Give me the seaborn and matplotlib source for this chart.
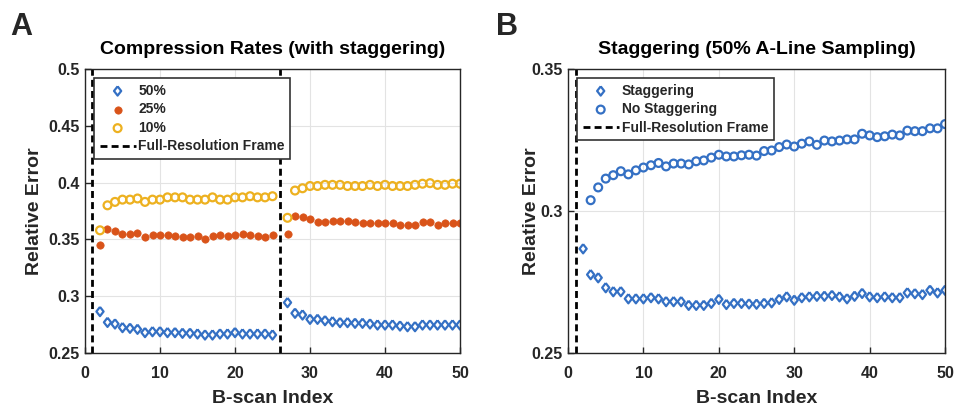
import numpy as np
import pandas as pd
import matplotlib
matplotlib.use('Agg')
import matplotlib.pyplot as plt
import seaborn as sns
from matplotlib.ticker import FuncFormatter

# Panel A: compression rates (with staggering); full-resolution frames at 1 and 26
idx_a = list(range(2, 26)) + list(range(27, 51))
rate_50 = [0.2865, 0.277, 0.2756, 0.2724, 0.2718, 0.2709, 0.268, 0.2688, 0.2688, 0.268,
           0.268, 0.2674, 0.2674, 0.2668, 0.2659, 0.2659, 0.2668, 0.2668, 0.268, 0.2668,
           0.2668, 0.2668, 0.2668, 0.2659,
           0.2944, 0.285, 0.2835, 0.2797, 0.2797, 0.2785, 0.2776, 0.2768, 0.2768, 0.2762,
           0.2762, 0.2756, 0.2747, 0.2747, 0.2747, 0.2738, 0.2732, 0.2732, 0.2747, 0.2747,
           0.2747, 0.2747, 0.2747, 0.2747]
rate_25 = [0.345, 0.359, 0.357, 0.355, 0.355, 0.356, 0.352, 0.354, 0.354, 0.354,
           0.353, 0.3525, 0.352, 0.353, 0.350, 0.353, 0.354, 0.353, 0.354, 0.355,
           0.354, 0.353, 0.352, 0.354,
           0.355, 0.371, 0.370, 0.368, 0.365, 0.365, 0.366, 0.366, 0.366, 0.365,
           0.364, 0.364, 0.364, 0.364, 0.364, 0.363, 0.363, 0.363, 0.365, 0.365,
           0.363, 0.364, 0.364, 0.364]
rate_10 = [0.358, 0.380, 0.383, 0.385, 0.385, 0.386, 0.383, 0.385, 0.385, 0.387,
           0.387, 0.387, 0.385, 0.385, 0.385, 0.387, 0.385, 0.385, 0.387, 0.387,
           0.388, 0.387, 0.387, 0.388,
           0.369, 0.393, 0.395, 0.397, 0.397, 0.398, 0.398, 0.398, 0.397, 0.397,
           0.397, 0.398, 0.397, 0.398, 0.397, 0.397, 0.397, 0.398, 0.399, 0.3995,
           0.398, 0.398, 0.399, 0.399]
full_res_a = [1, 26]

# Panel B: staggering vs no staggering at 50% A-line sampling
idx_stag = list(range(2, 51))
stag = [0.2867, 0.2776, 0.2765, 0.2730, 0.2716, 0.2716, 0.2691, 0.2691, 0.2691, 0.2695,
        0.2691, 0.2681, 0.2681, 0.2681, 0.2668, 0.2668, 0.2668, 0.2675, 0.2689, 0.2671,
        0.2675, 0.2675, 0.2673, 0.2672, 0.2675, 0.2677, 0.2689, 0.2698, 0.2686, 0.2695,
        0.2698, 0.2700, 0.2700, 0.2703, 0.2698, 0.2691, 0.2700, 0.2710, 0.2698, 0.2695,
        0.2698, 0.2695, 0.2695, 0.2712, 0.2709, 0.2706, 0.2721, 0.2712, 0.2721]
idx_nostag = list(range(3, 51))
nostag = [0.3038, 0.3083, 0.3114, 0.3126, 0.3140, 0.3129, 0.3143, 0.3153, 0.3161, 0.3169,
          0.3157, 0.3167, 0.3167, 0.3164, 0.3175, 0.3178, 0.3188, 0.3198, 0.3192, 0.3192,
          0.3196, 0.3198, 0.3195, 0.3211, 0.3213, 0.3225, 0.3234, 0.3227, 0.3237, 0.3245,
          0.3233, 0.3248, 0.3245, 0.3248, 0.3252, 0.3252, 0.3272, 0.3266, 0.3260, 0.3263,
          0.3269, 0.3266, 0.3283, 0.3281, 0.3281, 0.3291, 0.3291, 0.3306]
full_res_b = [1]

BLUE = '#3470c4'
RED = '#d95319'
YELLOW = '#edb120'
DIAMOND = [(0, 1), (0.78, 0), (0, -1), (-0.78, 0), (0, 1)]

sns.set_theme(style='whitegrid')
plt.rcParams['font.family'] = ['Liberation Sans', 'DejaVu Sans']
plt.rcParams['font.weight'] = 'bold'
plt.rcParams['axes.labelweight'] = 'bold'
plt.rcParams['axes.titleweight'] = 'bold'

fig = plt.figure(figsize=(9.55, 4.07), dpi=100)
ax_a = fig.add_axes([0.089, 0.1327, 0.3927, 0.6978])
ax_b = fig.add_axes([0.5948, 0.1327, 0.3948, 0.6978])

df_a = pd.DataFrame({'idx': idx_a, 'r50': rate_50, 'r25': rate_25, 'r10': rate_10})
sns.scatterplot(data=df_a, x='idx', y='r50', ax=ax_a, marker=DIAMOND, s=44,
                facecolor='none', edgecolor=BLUE, linewidth=1.6, label='50%')
sns.scatterplot(data=df_a, x='idx', y='r25', ax=ax_a, marker='o', s=28,
                facecolor=RED, edgecolor=RED, linewidth=0.5, label='25%')
sns.scatterplot(data=df_a, x='idx', y='r10', ax=ax_a, marker='o', s=32,
                facecolor='none', edgecolor=YELLOW, linewidth=1.6, label='10%')
for i, xv in enumerate(full_res_a):
    ax_a.axvline(xv, color='black', lw=2, ls=(0, (2.5, 1.5)),
                 label='Full-Resolution Frame' if i == 0 else None)

df_s = pd.DataFrame({'idx': idx_stag, 'err': stag})
df_n = pd.DataFrame({'idx': idx_nostag, 'err': nostag})
sns.scatterplot(data=df_s, x='idx', y='err', ax=ax_b, marker=DIAMOND, s=44,
                facecolor='none', edgecolor=BLUE, linewidth=1.6, label='Staggering')
sns.scatterplot(data=df_n, x='idx', y='err', ax=ax_b, marker='o', s=32,
                facecolor='none', edgecolor=BLUE, linewidth=1.6, label='No Staggering')
for xv in full_res_b:
    ax_b.axvline(xv, color='black', lw=2, ls=(0, (2.5, 1.5)),
                 label='Full-Resolution Frame')

fmt = FuncFormatter(lambda v, p: '{:g}'.format(round(v, 4)))
settings = [
    (ax_a, 'Compression Rates (with staggering)', (0.25, 0.5),
     np.arange(0.25, 0.501, 0.05), -0.112),
    (ax_b, 'Staggering (50% A-Line Sampling)', (0.25, 0.35),
     np.arange(0.25, 0.351, 0.05), -0.074),
]
for ax, title, ylim, yticks, ylab_x in settings:
    ax.set_xlim(0, 50)
    ax.set_ylim(*ylim)
    ax.set_xticks(range(0, 51, 10))
    ax.set_yticks(yticks)
    ax.yaxis.set_major_formatter(fmt)
    ax.set_title(title, fontsize=14, fontweight='bold', color='black', pad=11)
    ax.set_xlabel('B-scan Index', fontsize=14, color='#262626', labelpad=6)
    ax.set_ylabel('Relative Error', fontsize=14, color='#262626')
    ax.yaxis.set_label_coords(ylab_x, 0.5)
    ax.tick_params(axis='both', direction='in', length=4, width=1, color='#262626',
                   labelsize=11.5, labelcolor='#262626', bottom=True, left=True)
    ax.tick_params(axis='x', pad=9.5)
    ax.tick_params(axis='y', pad=4)
    ax.set_facecolor('white')
    ax.grid(True, color='#e3e3e3', lw=0.8)
    for sp in ax.spines.values():
        sp.set_color('#262626')
        sp.set_linewidth(1)
    leg = ax.legend(loc='upper left', bbox_to_anchor=(0.024, 0.968), borderaxespad=0,
                    handlelength=2.6, handletextpad=0.2, borderpad=0.4,
                    labelspacing=0.33, fancybox=False, framealpha=1,
                    prop={'weight': 'bold', 'size': 10})
    leg.get_frame().set_edgecolor('#333333')
    leg.get_frame().set_linewidth(1.2)

fig.text(0.0105, 0.914, 'A', fontsize=22, fontweight='bold', va='baseline')
fig.text(0.519, 0.914, 'B', fontsize=22, fontweight='bold', va='baseline')

fig.savefig('out.png', dpi=100)
